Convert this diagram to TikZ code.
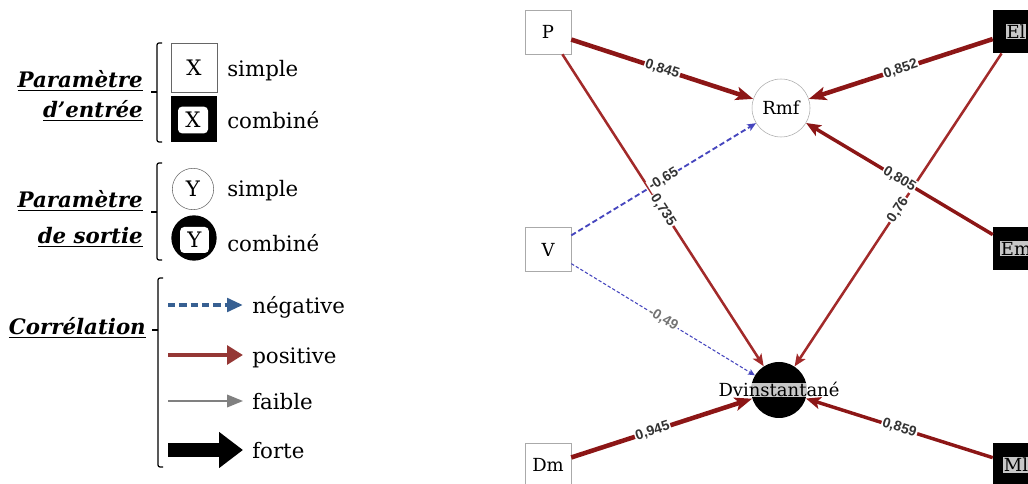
\documentclass[tikz,border=0pt]{standalone}
\usepackage{fontspec}
\setmainfont{DejaVu Serif}
\newfontfamily\edgefont{Liberation Sans}
\usetikzlibrary{arrows.meta}
\definecolor{redA}{RGB}{140,22,22}
\definecolor{redB}{RGB}{162,42,42}
\definecolor{legred}{RGB}{149,55,53}
\definecolor{legblue}{RGB}{55,96,146}
\definecolor{dashblue}{RGB}{70,70,190}
\definecolor{boxgray}{RGB}{170,170,170}
\begin{document}
\begin{tikzpicture}[x=0.75pt,y=-0.75pt,
  legtxt/.style={font=\fontsize{16}{19}\selectfont, inner sep=0, anchor=base west},
  headtxt/.style={font=\fontsize{16}{19}\selectfont\bfseries\itshape, inner sep=0, anchor=base east},
  bracket/.style={line width=0.9pt, rounded corners=1.5pt},
  inbox/.style={draw=boxgray, fill=white, minimum width=34.5pt, minimum height=33pt, inner sep=0, font=\fontsize{13.5}{15}\selectfont},
  outcirc/.style={circle, draw=boxgray, fill=white, minimum size=43.5pt, inner sep=0, font=\fontsize{13.5}{15}\selectfont},
  blackbox/.style={fill=black, minimum width=34.5pt, minimum height=32.5pt, inner sep=0},
  blackcirc/.style={circle, fill=black, minimum size=42pt, inner sep=0},
  hilab/.style={fill=white, fill opacity=0.78, text opacity=1, inner sep=0.6pt, font=\fontsize{13.5}{15}\selectfont},
  elab/.style={sloped, font=\edgefont\bfseries\fontsize{10.5}{12}\selectfont, text=black!80, fill=white, inner sep=0.8pt},
  thickred/.style={draw=redA, line width=3.4pt, -{Stealth[length=13pt,width=10pt,inset=3pt]}},
  midred/.style={draw=redA, line width=2.6pt, -{Stealth[length=11pt,width=9pt,inset=2.5pt]}},
  thinred/.style={draw=redB, line width=1.9pt, -{Stealth[length=9pt,width=7.5pt,inset=2pt]}},
  negA/.style={draw=dashblue, line width=1.4pt, dash pattern=on 4pt off 2.2pt, -{Stealth[length=6.5pt,width=5.5pt,inset=1.5pt]}},
  negB/.style={draw=dashblue, line width=0.8pt, dash pattern=on 2.5pt off 1.5pt, -{Stealth[length=5pt,width=4.5pt,inset=1pt]}}
]
\useasboundingbox (0,0) rectangle (1028,484);
\clip (0,0) rectangle (1028,484);

% ---------- legend ----------
\node[headtxt] (h1) at (143,88) {\underline{Paramètre}};
\node[headtxt] (h2) at (143,118) {\underline{d’entrée}};
\node[headtxt] (h3) at (143,208) {\underline{Paramètre}};
\node[headtxt] (h4) at (143,244) {\underline{de sortie}};
\node[headtxt] (h5) at (146,335) {\underline{Corrélation}};

\draw[bracket] (162,43) -- (157,43) -- (157,142) -- (162,142);
\draw[bracket] (157,92) -- (151,92);
\draw[bracket] (162,163) -- (157,163) -- (157,260) -- (162,260);
\draw[bracket] (157,212) -- (151,212);
\draw[bracket] (163,278) -- (158,278) -- (158,467) -- (163,467);
\draw[bracket] (158,330) -- (152,330);

\node[draw=black!60, fill=white, minimum width=34.5pt, minimum height=37pt, inner sep=0, font=\fontsize{16}{19}\selectfont] (lx1) at (194,68) {X};
\node[fill=black, minimum width=34.5pt, minimum height=34.5pt, inner sep=0] (lx2) at (194,119) {};
\node[fill=white, rounded corners=3pt, minimum width=22.5pt, minimum height=20pt, inner sep=0, font=\fontsize{16}{19}\selectfont] (lx2t) at (193,120) {X};
\node[legtxt] (ls1) at (227,77) {simple};
\node[legtxt] (lc1) at (227,129) {combiné};

\node[circle, draw=black!60, fill=white, minimum size=31pt, inner sep=0, font=\fontsize{16}{19}\selectfont] (ly1) at (193,189) {Y};
\node[circle, fill=black, minimum size=34pt, inner sep=0] (ly2) at (194,238) {};
\node[fill=white, rounded corners=3pt, minimum width=21.5pt, minimum height=19.5pt, inner sep=0, font=\fontsize{16}{19}\selectfont] (ly2t) at (194.5,240) {Y};
\node[legtxt] (ls2) at (227,197) {simple};
\node[legtxt] (lc2) at (227,252) {combiné};

\coordinate (a1s) at (168,305); \coordinate (a1e) at (243,305);
\coordinate (a2s) at (168,355); \coordinate (a2e) at (243,355);
\coordinate (a3s) at (168,401); \coordinate (a3e) at (243,401);
\coordinate (a4s) at (168,450); \coordinate (a4e) at (243,450);
\draw[legblue, line width=3pt, dash pattern=on 5.5pt off 3pt, -{Triangle[length=12pt,width=10pt]}] (a1s) -- (a1e);
\draw[legred, line width=3.5pt, -{Triangle[length=12pt,width=14pt]}] (a2s) -- (a2e);
\draw[gray, line width=1.2pt, -{Triangle[length=12pt,width=9.5pt]}] (a3s) -- (a3e);
\draw[black, line width=10pt, -{Triangle[length=18pt,width=26pt]}] (a4s) -- (a4e);
\node[legtxt] (ln) at (252,314) {négative};
\node[legtxt] (lp) at (252,364) {positive};
\node[legtxt] (lf) at (252,410) {faible};
\node[legtxt] (lfo) at (252,458) {forte};

% ---------- diagram ----------
\node[inbox] (P) at (548,32) {P};
\node[inbox] (V) at (548,249.5) {V};
\node[inbox] (Dm) at (548,465) {Dm};
\node[outcirc] (Rmf) at (781,108) {Rmf};
\node[blackcirc] (Dv) at (779,390) {};
\node[blackbox] (El) at (1016,31.5) {};
\node[blackbox] (Em) at (1016,248.5) {};
\node[blackbox] (Ml) at (1016,465) {};
\node[hilab] (Elt) at (El.center) {El};
\node[hilab] (Emt) at (Em.center) {Em};
\node[hilab] (Mlt) at (Ml.center) {Ml};

\draw[thinred] (P) -- node[elab, pos=0.5] (e4) {0,735} (Dv);
\draw[thinred] (El) -- node[elab, pos=0.5] (e5) {0,76} (Dv);
\draw[negA] (V) -- node[elab, pos=0.5] (e6) {-0,65} (Rmf);
\draw[negB] (V) -- node[elab, pos=0.5, text=black!55] (e7) {-0,49} (Dv);
\draw[thickred] (P) -- node[elab, pos=0.5] (e1) {0,845} (Rmf);
\draw[thickred] (El) -- node[elab, pos=0.5] (e2) {0,852} (Rmf);
\draw[midred] (Em) -- node[elab, pos=0.5] (e3) {0,805} (Rmf);
\draw[thickred] (Dm) -- node[elab, pos=0.45] (e8) {0,945} (Dv);
\draw[midred] (Ml) -- node[elab, pos=0.5] (e9) {0,859} (Dv);

\node[hilab, anchor=base, inner sep=0pt] (Dvt) at (779,397) {Dvinstantané};
\end{tikzpicture}
\end{document}
